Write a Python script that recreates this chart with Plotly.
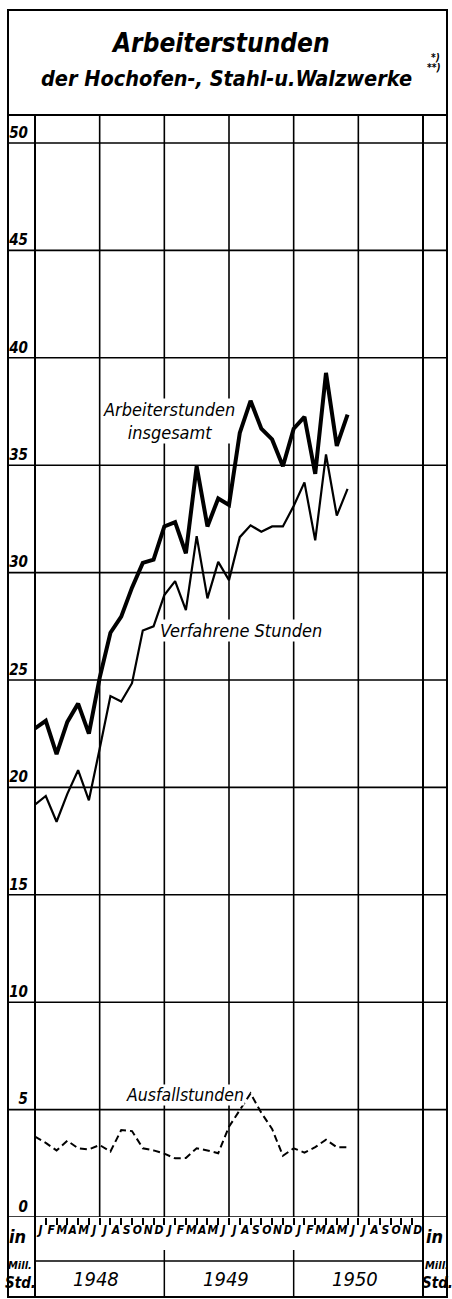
import plotly.graph_objects as go

# ---------------- data ----------------
months = ["J", "F", "M", "A", "M", "J", "J", "A", "S", "O", "N", "D"]
years = ["1948", "1949", "1950"]
y_ticks = list(range(0, 51, 5))

# Arbeiterstunden insgesamt (Mill. Std.), Jan 1948 - Jun 1950
total_hours = [22.75, 23.1, 21.55, 23.05, 23.9, 22.5, 25.1, 27.2, 27.95, 29.3, 30.45, 30.6,
               32.15, 32.35, 30.9, 34.95, 32.15, 33.45, 33.15, 36.5, 38.0, 36.7, 36.2, 34.95,
               36.7, 37.25, 34.6, 39.3, 35.9, 37.35]
# Verfahrene Stunden
worked_hours = [19.2, 19.6, 18.4, 19.7, 20.8, 19.4, 21.8, 24.25, 24.0, 24.85, 27.3, 27.5,
                28.95, 29.6, 28.25, 31.7, 28.8, 30.5, 29.65, 31.65, 32.2, 31.9, 32.15, 32.15,
                33.1, 34.2, 31.5, 35.5, 32.65, 33.9]
# Ausfallstunden
lost_hours = [3.74, 3.45, 3.1, 3.55, 3.2, 3.15, 3.35, 3.05, 4.05, 4.0, 3.2, 3.1,
              2.95, 2.73, 2.75, 3.2, 3.1, 2.97, 4.2, 5.0, 5.75, 4.85, 4.1, 2.85,
              3.2, 3.0, 3.25, 3.6, 3.25, 3.25]
month_index = list(range(len(total_hours)))

# ---------------- layout geometry (px) ----------------
W, H = 452, 1299
FL, FR, FT, FB = 8, 447, 10, 1297
PL, PR = 35, 423
PT = 115
Y0 = 1217
MONTH_ROW_B = 1261
YEAR_SEP_TOP = 1250
PX_PER_UNIT = 21.48
YMAX = (Y0 - PT) / PX_PER_UNIT
N_MONTHS = 36

FONT = "DejaVu Sans Condensed, Liberation Sans Narrow, Arial Narrow, sans-serif"


def fx(x):
    return x / W


def fy(y):
    return 1 - y / H


def font(size, weight="normal"):
    return dict(family=FONT, size=size, color="black", style="italic", weight=weight)


fig = go.Figure()
line_black = "black"
fig.add_trace(go.Scatter(x=month_index, y=total_hours, mode="lines",
                         line=dict(color=line_black, width=4), hoverinfo="skip"))
fig.add_trace(go.Scatter(x=month_index, y=worked_hours, mode="lines",
                         line=dict(color=line_black, width=2.2), hoverinfo="skip"))
fig.add_trace(go.Scatter(x=month_index, y=lost_hours, mode="lines",
                         line=dict(color=line_black, width=2, dash="7px,4px"), hoverinfo="skip"))

shapes = []
# outer frame
shapes.append(dict(type="rect", xref="paper", yref="paper", x0=fx(FL), x1=fx(FR),
                   y0=fy(FB), y1=fy(FT), line=dict(color="black", width=2)))
# title box bottom
shapes.append(dict(type="line", xref="paper", yref="paper", x0=fx(FL), x1=fx(FR),
                   y0=fy(PT), y1=fy(PT), line=dict(color="black", width=2)))
# column separators
for xx in (PL, PR):
    shapes.append(dict(type="line", xref="paper", yref="paper", x0=fx(xx), x1=fx(xx),
                       y0=fy(PT), y1=fy(FB), line=dict(color="black", width=2)))
# horizontal grid lines across full width
for v in y_ticks:
    shapes.append(dict(type="line", xref="paper", yref="y", x0=fx(FL), x1=fx(FR),
                       y0=v, y1=v, line=dict(color="black", width=1.6), layer="below"))
# vertical half-year lines
for m in range(6, N_MONTHS, 6):
    shapes.append(dict(type="line", xref="x", yref="paper", x0=m, x1=m,
                       y0=fy(Y0), y1=fy(PT), line=dict(color="black", width=1.6), layer="below"))
# month/year row separator
shapes.append(dict(type="line", xref="paper", yref="paper", x0=fx(PL), x1=fx(PR),
                   y0=fy(MONTH_ROW_B), y1=fy(MONTH_ROW_B), line=dict(color="black", width=1.5)))
# year separators
for m in (12, 24):
    shapes.append(dict(type="line", xref="x", yref="paper", x0=m, x1=m,
                       y0=fy(YEAR_SEP_TOP), y1=fy(FB), line=dict(color="black", width=1.5)))

ann = []
# title
ann.append(dict(text="Arbeiterstunden", xref="paper", yref="paper", x=fx(220), y=fy(43),
                showarrow=False, font=font(26, "bold"), xanchor="center", yanchor="middle"))
ann.append(dict(text="der Hochofen-, Stahl-u.Walzwerke", xref="paper", yref="paper",
                x=fx(226), y=fy(79), showarrow=False, font=font(21.5, "bold"),
                xanchor="center", yanchor="middle"))
ann.append(dict(text="*)", xref="paper", yref="paper", x=fx(435), y=fy(57),
                showarrow=False, font=font(10, "bold"), xanchor="center", yanchor="middle"))
ann.append(dict(text="**)", xref="paper", yref="paper", x=fx(434), y=fy(68),
                showarrow=False, font=font(10, "bold"), xanchor="center", yanchor="middle"))
# series labels
ann.append(dict(text="Arbeiterstunden<br>insgesamt", xref="paper", yref="paper",
                x=fx(169), y=fy(421), showarrow=False, font=font(18),
                bgcolor="white", xanchor="center", yanchor="middle", borderpad=0))
ann.append(dict(text="Verfahrene Stunden", xref="paper", yref="paper",
                x=fx(241), y=fy(630), showarrow=False, font=font(18),
                bgcolor="white", xanchor="center", yanchor="middle", borderpad=0))
ann.append(dict(text="Ausfallstunden", xref="paper", yref="paper",
                x=fx(185), y=fy(1095), showarrow=False, font=font(17.5),
                bgcolor="white", xanchor="center", yanchor="middle", borderpad=0))
# years
for k, yr in enumerate(years):
    ann.append(dict(text=yr, xref="x", yref="paper", x=12 * k + 5.7, y=fy(1279),
                    showarrow=False, font=font(20), xanchor="center", yanchor="middle"))
# unit labels
for cx in (17, 434):
    ann.append(dict(text="in", xref="paper", yref="paper", x=fx(cx), y=fy(1236),
                    showarrow=False, font=font(18, "bold"), xanchor="center", yanchor="middle"))
    ann.append(dict(text="Mill.", xref="paper", yref="paper", x=fx(cx + 3), y=fy(1265),
                    showarrow=False, font=font(11, "bold"), xanchor="center", yanchor="middle"))
    ann.append(dict(text="Std.", xref="paper", yref="paper", x=fx(cx + 3), y=fy(1283),
                    showarrow=False, font=font(15, "bold"), xanchor="center", yanchor="middle"))

fig.update_layout(
    width=W, height=H, autosize=False,
    margin=dict(l=0, r=0, t=0, b=0),
    paper_bgcolor="white", plot_bgcolor="white",
    showlegend=False,
    shapes=shapes, annotations=ann,
    xaxis=dict(domain=[fx(PL), fx(PR)], range=[0, N_MONTHS], fixedrange=True,
               tickmode="array", tickvals=[i + 0.5 for i in range(N_MONTHS)],
               ticktext=months * 3, ticks="", showgrid=False, zeroline=False,
               showline=False, tickangle=0, tickfont=font(12, "bold"), ticklabelstandoff=4,
               minor=dict(tickmode="linear", tick0=0, dtick=1, ticks="outside",
                          ticklen=7, tickwidth=1.5, tickcolor="black", showgrid=False)),
    yaxis=dict(domain=[fy(Y0), fy(PT)], range=[0, YMAX], fixedrange=True,
               tickmode="array", tickvals=y_ticks, ticktext=[str(v) for v in y_ticks],
               ticks="", showgrid=False, zeroline=False, showline=False,
               ticklabelposition="outside top", tickfont=font(15, "bold"), ticklabelstandoff=6),
    yaxis2=dict(overlaying="y", side="right", anchor="x", range=[0, YMAX], matches="y",
                fixedrange=True, tickmode="array", tickvals=y_ticks,
                ticktext=[str(v) for v in y_ticks], ticks="", showgrid=False,
                zeroline=False, showline=False, ticklabelposition="outside top",
                tickfont=font(15, "bold"), ticklabelstandoff=3),
)

fig.write_html("out.html", config={"displayModeBar": False},
               post_script="document.body.style.margin='0';document.body.style.overflow='hidden';")
